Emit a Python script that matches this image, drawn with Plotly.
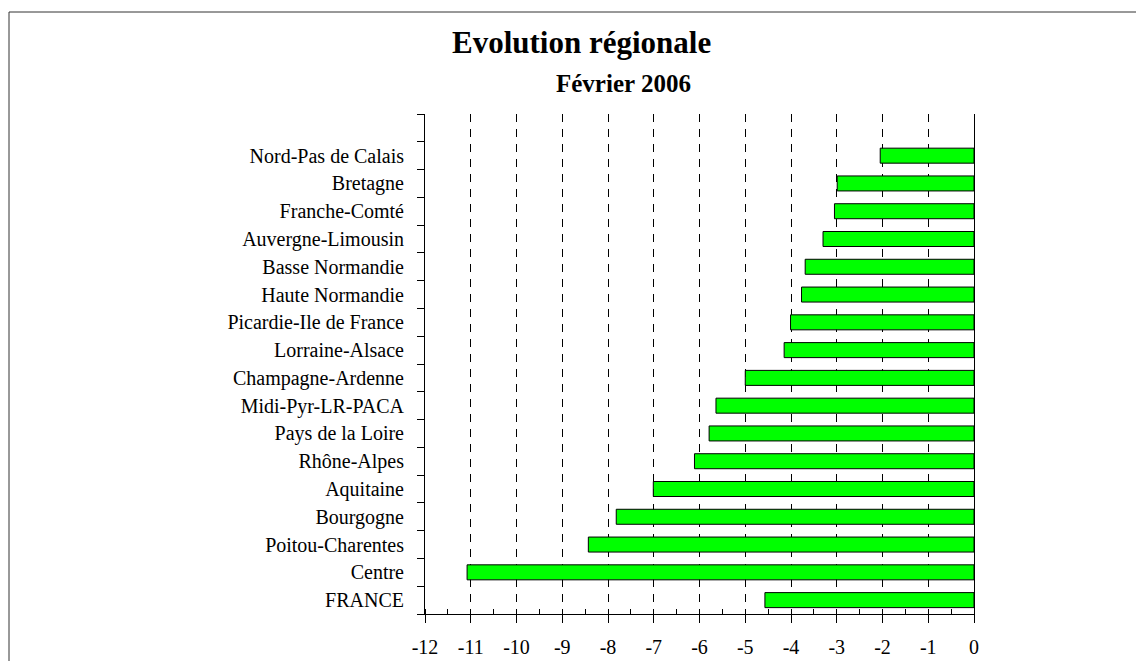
import plotly.graph_objects as go

regions = ["FRANCE", "Centre", "Poitou-Charentes", "Bourgogne", "Aquitaine",
           "Rhône-Alpes", "Pays de la Loire", "Midi-Pyr-LR-PACA", "Champagne-Ardenne",
           "Lorraine-Alsace", "Picardie-Ile de France", "Haute Normandie",
           "Basse Normandie", "Auvergne-Limousin", "Franche-Comté", "Bretagne",
           "Nord-Pas de Calais", " "]
values = [-4.57, -11.08, -8.43, -7.82, -7.01,
          -6.11, -5.79, -5.64, -5.00,
          -4.15, -4.01, -3.77,
          -3.69, -3.30, -3.05, -2.99,
          -2.05, None]
x_ticks = list(range(-12, 1))

title = "Evolution régionale"
subtitle = "Février 2006"

OFF = 8  # page body margin
W, H = 1144, 661
L, T = 425 - OFF, 114 - OFF
R = W - (974 - OFF)
B = H - (614 - OFF)
pw, ph = W - L - R, H - T - B

def px(x):
    return (x - OFF - L) / pw

def py(y):
    return (H - B - (y - OFF)) / ph

fig = go.Figure()
fig.add_trace(go.Bar(
    x=values, y=regions, orientation="h",
    marker=dict(color="#00FF00", line=dict(color="black", width=1)),
    width=0.54, showlegend=False, hoverinfo="x+y",
))

fig.update_layout(
    width=W, height=H,
    margin=dict(l=L, r=R, t=T, b=B, autoexpand=False),
    paper_bgcolor="white", plot_bgcolor="white",
    font=dict(family="Liberation Serif, Times New Roman, serif", color="black"),
    xaxis=dict(
        range=[-12, 0], tickvals=x_ticks, ticktext=[str(v) for v in x_ticks],
        showline=True, linecolor="black", linewidth=1,
        ticks="outside", ticklen=8, tickcolor="black", tickwidth=1,
        tickfont=dict(size=20), ticklabelstandoff=7,
        showgrid=True, gridcolor="black", gridwidth=1, griddash="8px,7px",
        zeroline=False,
        minor=dict(dtick=0.5, ticks="inside", ticklen=5, tickcolor="black",
                   tickwidth=1, showgrid=False),
    ),
    yaxis=dict(
        type="category", categoryorder="array", categoryarray=regions,
        range=[-0.5, len(regions) - 0.5],
        showline=True, linecolor="black", linewidth=1, mirror=True,
        ticks="outside", ticklen=7, tickcolor="black", tickwidth=1,
        tickson="boundaries", tickfont=dict(size=20), ticklabelstandoff=16,
        showgrid=False, zeroline=False,
    ),
    shapes=[dict(type="rect", xref="paper", yref="paper",
                 x0=px(9), x1=px(1160), y0=py(680), y1=py(12),
                 line=dict(color="#333333", width=1), fillcolor="rgba(0,0,0,0)",
                 layer="below")],
    annotations=[
        dict(text="<b>" + title + "</b>", xref="paper", yref="paper",
             x=px(581), y=py(42), xanchor="center", yanchor="middle",
             showarrow=False, font=dict(size=31)),
        dict(text="<b>" + subtitle + "</b>", xref="paper", yref="paper",
             x=px(623), y=py(83.5), xanchor="center", yanchor="middle",
             showarrow=False, font=dict(size=25)),
    ],
)

fig.write_html("out.html")
